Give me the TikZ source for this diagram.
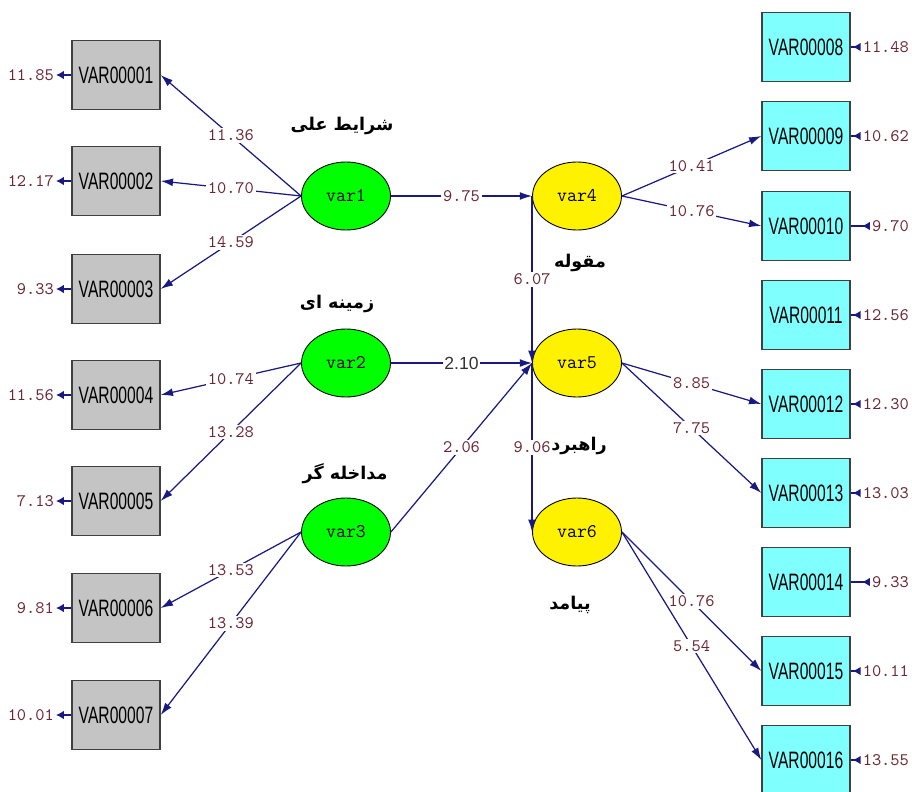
\documentclass[tikz,border=0pt]{standalone}
\usepackage{fontspec}
\usetikzlibrary{shapes.geometric,arrows.meta}
\TeXXeTstate=1
\newfontfamily\arabicfont[Script=Arabic]{DejaVu Sans}
\newfontfamily\boxfont[FakeStretch=0.66]{Liberation Sans}
\newfontfamily\valsansfont{Liberation Sans}
\definecolor{pathblue}{RGB}{25,25,130}
\definecolor{valred}{RGB}{105,40,55}
\definecolor{obsgray}{RGB}{196,196,196}
\definecolor{obscyan}{RGB}{128,255,255}

\tikzset{
    obsbox/.style={draw=black!75, line width=0.8pt, minimum width=1.76cm, minimum height=1.38cm, inner sep=0pt, font=\boxfont\fontsize{13.5}{14}\selectfont},
    leftbox/.style={obsbox, fill=obsgray},
    rightbox/.style={obsbox, fill=obscyan},
    latent/.style={ellipse, draw=black, line width=0.5pt, minimum width=1.78cm, minimum height=1.36cm, inner sep=0pt, font=\ttfamily\fontsize{11}{11}\selectfont},
    exo/.style={latent, fill=green},
    endo/.style={latent, fill=yellow},
    link/.style={draw=pathblue, line width=0.7pt, -{Latex[length=7pt,width=4.5pt]}},
    val/.style={fill=white, inner sep=1pt, text=valred, font=\ttfamily\fontsize{10}{10}\selectfont},
    valsans/.style={val, font=\valsansfont\fontsize{10}{10}\selectfont, text=black!80},
    errval/.style={inner sep=1pt, text=valred, font=\ttfamily\fontsize{10}{10}\selectfont},
    errleft/.style={draw=pathblue, line width=1pt, -{Latex[length=4.5pt,width=5pt]}},
    errright/.style={draw=pathblue, line width=1pt, -{Latex[length=4.5pt,width=5pt,reversed]}},
    fa/.style={inner sep=1pt, font=\arabicfont\bfseries\fontsize{10}{11}\selectfont}
}

\begin{document}
\begin{tikzpicture}[x=0.02cm, y=-0.02cm]
    \useasboundingbox (0,0) rectangle (912,791);

    % observed variables, left
    \node[leftbox] (b1) at (116,75) {VAR00001};
    \node[leftbox] (b2) at (116,181) {VAR00002};
    \node[leftbox] (b3) at (116,289) {VAR00003};
    \node[leftbox] (b4) at (116,395) {VAR00004};
    \node[leftbox] (b5) at (116,501) {VAR00005};
    \node[leftbox] (b6) at (116,608) {VAR00006};
    \node[leftbox] (b7) at (116,715) {VAR00007};

    % observed variables, right
    \node[rightbox] (b8) at (806,47) {VAR00008};
    \node[rightbox] (b9) at (806,136) {VAR00009};
    \node[rightbox] (b10) at (806,226) {VAR00010};
    \node[rightbox] (b11) at (806,315) {VAR00011};
    \node[rightbox] (b12) at (806,404) {VAR00012};
    \node[rightbox] (b13) at (806,493) {VAR00013};
    \node[rightbox] (b14) at (806,582) {VAR00014};
    \node[rightbox] (b15) at (806,671) {VAR00015};
    \node[rightbox] (b16) at (806,760) {VAR00016};

    % latent variables
    \node[exo] (v1) at (346,196) {var1};
    \node[exo] (v2) at (346,363) {var2};
    \node[exo] (v3) at (346,532) {var3};
    \node[endo] (v4) at (577,196) {var4};
    \node[endo] (v5) at (577,363) {var5};
    \node[endo] (v6) at (577,532) {var6};

    % names
    \node[fa] (fa1) at (342,126) {\arabicfont\beginR شرایط علی\endR};
    \node[fa] (fa2) at (337,304) {\arabicfont\beginR زمینه ای\endR};
    \node[fa] (fa3) at (345,474) {\arabicfont\beginR مداخله گر\endR};
    \node[fa] (fa4) at (580,263) {\arabicfont\beginR مقوله\endR};
    \node[fa] (fa5) at (579,446) {\arabicfont\beginR راهبرد\endR};
    \node[fa] (fa6) at (570,605) {\arabicfont\beginR پیامد\endR};

    % error terms
    \node[errval, anchor=east] (e1) at (56,75) {11.85};
    \node[errval, anchor=east] (e2) at (56,181) {12.17};
    \node[errval, anchor=east] (e3) at (56,289) {9.33};
    \node[errval, anchor=east] (e4) at (56,395) {11.56};
    \node[errval, anchor=east] (e5) at (56,501) {7.13};
    \node[errval, anchor=east] (e6) at (56,608) {9.81};
    \node[errval, anchor=east] (e7) at (56,715) {10.01};
    \node[errval, anchor=east] (e8) at (911,47) {11.48};
    \node[errval, anchor=east] (e9) at (911,136) {10.62};
    \node[errval, anchor=east] (e10) at (911,226) {9.70};
    \node[errval, anchor=east] (e11) at (911,315) {12.56};
    \node[errval, anchor=east] (e12) at (911,404) {12.30};
    \node[errval, anchor=east] (e13) at (911,493) {13.03};
    \node[errval, anchor=east] (e14) at (911,582) {9.33};
    \node[errval, anchor=east] (e15) at (911,671) {10.11};
    \node[errval, anchor=east] (e16) at (911,760) {13.55};

    \draw[errleft] (b1) -- (e1);
    \draw[errleft] (b2) -- (e2);
    \draw[errleft] (b3) -- (e3);
    \draw[errleft] (b4) -- (e4);
    \draw[errleft] (b5) -- (e5);
    \draw[errleft] (b6) -- (e6);
    \draw[errleft] (b7) -- (e7);
    \draw[errright] (b8) -- (e8);
    \draw[errright] (b9) -- (e9);
    \draw[errright] (b10) -- (e10);
    \draw[errright] (b11) -- (e11);
    \draw[errright] (b12) -- (e12);
    \draw[errright] (b13) -- (e13);
    \draw[errright] (b14) -- (e14);
    \draw[errright] (b15) -- (e15);
    \draw[errright] (b16) -- (e16);

    % loadings
    \draw[link] (v1.west) -- node[val]{11.36} (b1.east);
    \draw[link] (v1.west) -- node[val]{10.70} (b2.east);
    \draw[link] (v1.west) -- node[val]{14.59} (b3.east);
    \draw[link] (v2.west) -- node[val]{10.74} (b4.east);
    \draw[link] (v2.west) -- node[val]{13.28} (b5.east);
    \draw[link] (v3.west) -- node[val]{13.53} (b6.east);
    \draw[link] (v3.west) -- node[val]{13.39} (b7.east);
    \draw[link] (v4.east) -- node[val]{10.41} (b9.west);
    \draw[link] (v4.east) -- node[val]{10.76} (b10.west);
    \draw[link] (v5.east) -- node[val]{8.85} (b12.west);
    \draw[link] (v5.east) -- node[val]{7.75} (b13.west);
    \draw[link] (v6.east) -- node[val]{10.76} (b15.west);
    \draw[link] (v6.east) -- node[val]{5.54} (b16.west);

    % structural paths
    \draw[link] (v1.east) -- node[val]{9.75} (v4.west);
    \draw[link] (v2.east) -- node[valsans]{2.10} (v5.west);
    \draw[link] (v3.east) -- node[val]{2.06} (v5.west);
    \draw[link] (v4.west) -- node[val]{6.07} (v5.west);
    \draw[link] (v5.west) -- node[val]{9.06} (v6.west);
\end{tikzpicture}
\end{document}
